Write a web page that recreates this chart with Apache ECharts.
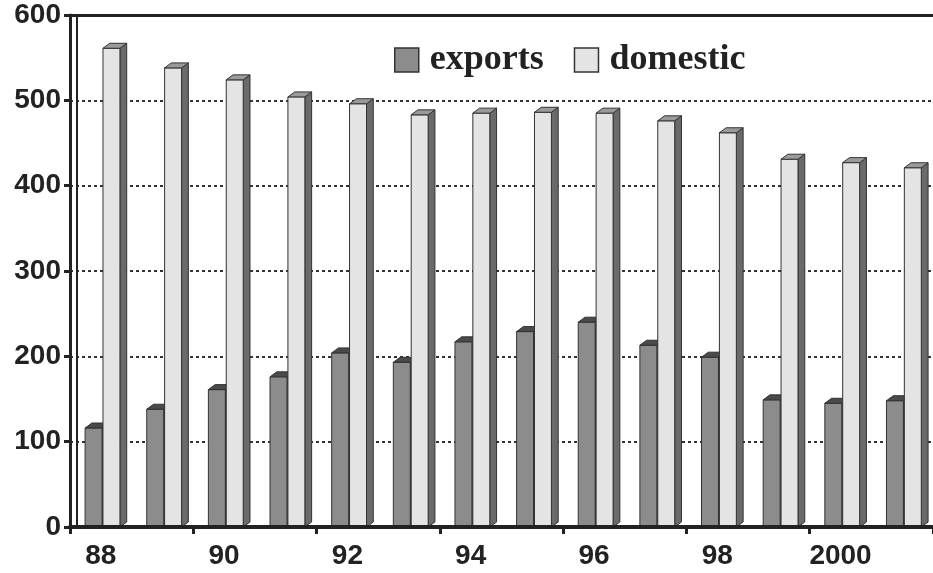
<!DOCTYPE html>
<html>
<head>
<meta charset="utf-8">
<script src="https://cdn.jsdelivr.net/npm/echarts@6/dist/echarts.min.js"></script>
<style>
  html, body { margin: 0; padding: 0; background: #fff; }
  #chart { width: 933px; height: 573px; }
</style>
</head>
<body>
<div id="chart"></div>
<script>
  var years = ['88', '89', '90', '91', '92', '93', '94', '95', '96', '97', '98', '99', '2000', '2001']
  var exportsVals = [116, 138, 161, 176, 204, 193, 217, 229, 240, 213, 199, 149, 145, 148]
  var domesticVals = [561, 538, 524, 504, 496, 483, 485, 486, 485, 476, 462, 431, 427, 421]
  var yTicks = [0, 100, 200, 300, 400, 500, 600]

  var ink = '#222'

  // 3d-looking bar: front face, side face and top face, placed by the category axis
  function bar3d(shift, front, side, top) {
    return function (params, api) {
      var idx = api.value(0)
      var base = api.coord([idx, 0])
      var head = api.coord([idx, api.value(1)])
      var w = api.size([1, 0])[0]
      var bw = w * 0.275
      var dx = w * 0.11
      var dy = 5
      var x0 = base[0] - w / 2 + w * shift
      var stroke = { stroke: '#333', lineWidth: 1 }
      return {
        type: 'group',
        children: [
          {
            type: 'polygon',
            shape: { points: [[x0 + bw, head[1]], [x0 + bw + dx, head[1] - dy], [x0 + bw + dx, base[1] - dy], [x0 + bw, base[1]]] },
            style: Object.assign({ fill: side }, stroke)
          },
          {
            type: 'rect',
            shape: { x: x0, y: head[1], width: bw, height: base[1] - head[1] },
            style: Object.assign({ fill: front }, stroke)
          },
          {
            type: 'polygon',
            shape: { points: [[x0, head[1]], [x0 + dx, head[1] - dy], [x0 + bw + dx, head[1] - dy], [x0 + bw, head[1]]] },
            style: Object.assign({ fill: top }, stroke)
          }
        ]
      }
    }
  }

  var chart = echarts.init(document.getElementById('chart'))
  chart.setOption({
    backgroundColor: '#fff',
    animation: false,
    grid: {
      left: 70,
      right: -6,
      top: 15,
      bottom: 46
    },
    legend: {
      data: ['exports', 'domestic'],
      left: 389,
      top: 37,
      icon: 'rect',
      itemWidth: 24,
      itemHeight: 24,
      itemGap: 30,
      itemStyle: { borderColor: '#333', borderWidth: 1.5 },
      textStyle: {
        fontFamily: '"Liberation Serif", "Times New Roman", serif',
        fontWeight: 'bold',
        fontSize: 36,
        color: ink,
        padding: [0, 0, 0, 6]
      }
    },
    xAxis: [
      {
        type: 'category',
        data: years,
        z: 10,
        axisLine: { lineStyle: { color: ink, width: 4 } },
        axisTick: { show: true, length: 7, lineStyle: { color: ink, width: 3 } },
        axisLabel: {
          interval: 1,
          margin: 15,
          color: ink,
          fontFamily: '"Liberation Sans", Arial, sans-serif',
          fontWeight: 'bold',
          fontSize: 28
        },
        splitLine: { show: false }
      },
      {
        // top frame line
        type: 'category',
        data: years,
        position: 'top',
        z: 10,
        axisLine: { onZero: false, lineStyle: { color: ink, width: 3 } },
        axisTick: { show: false },
        axisLabel: { show: false },
        splitLine: { show: false }
      }
    ],
    yAxis: [
      {
        type: 'value',
        min: yTicks[0],
        max: yTicks[yTicks.length - 1],
        interval: 100,
        axisLine: { show: true, onZero: false, lineStyle: { color: ink, width: 3 } },
        axisTick: { show: true, length: 6, lineStyle: { color: ink, width: 3 } },
        axisLabel: {
          margin: 9,
          color: ink,
          fontFamily: '"Liberation Sans", Arial, sans-serif',
          fontWeight: 'bold',
          fontSize: 28
        },
        splitLine: {
          show: true,
          lineStyle: { color: '#333', width: 2, type: [3, 3] }
        }
      },
      {
        // inner wall edge
        type: 'value',
        position: 'left',
        offset: -7,
        min: 0,
        max: 600,
        interval: 100,
        axisLine: { show: true, onZero: false, lineStyle: { color: ink, width: 2 } },
        axisTick: { show: false },
        axisLabel: { show: false },
        splitLine: { show: false }
      }
    ],
    series: [
      {
        name: 'exports',
        type: 'custom',
        renderItem: bar3d(0.245, '#8c8c8c', '#555', '#4a4a4a'),
        itemStyle: { color: '#8c8c8c' },
        encode: { x: 0, y: 1 },
        data: exportsVals.map(function (v, i) { return [i, v] })
      },
      {
        name: 'domestic',
        type: 'custom',
        renderItem: bar3d(0.535, '#e4e4e4', '#6a6a6a', '#9a9a9a'),
        itemStyle: { color: '#e4e4e4' },
        encode: { x: 0, y: 1 },
        data: domesticVals.map(function (v, i) { return [i, v] })
      }
    ]
  })
</script>
</body>
</html>
